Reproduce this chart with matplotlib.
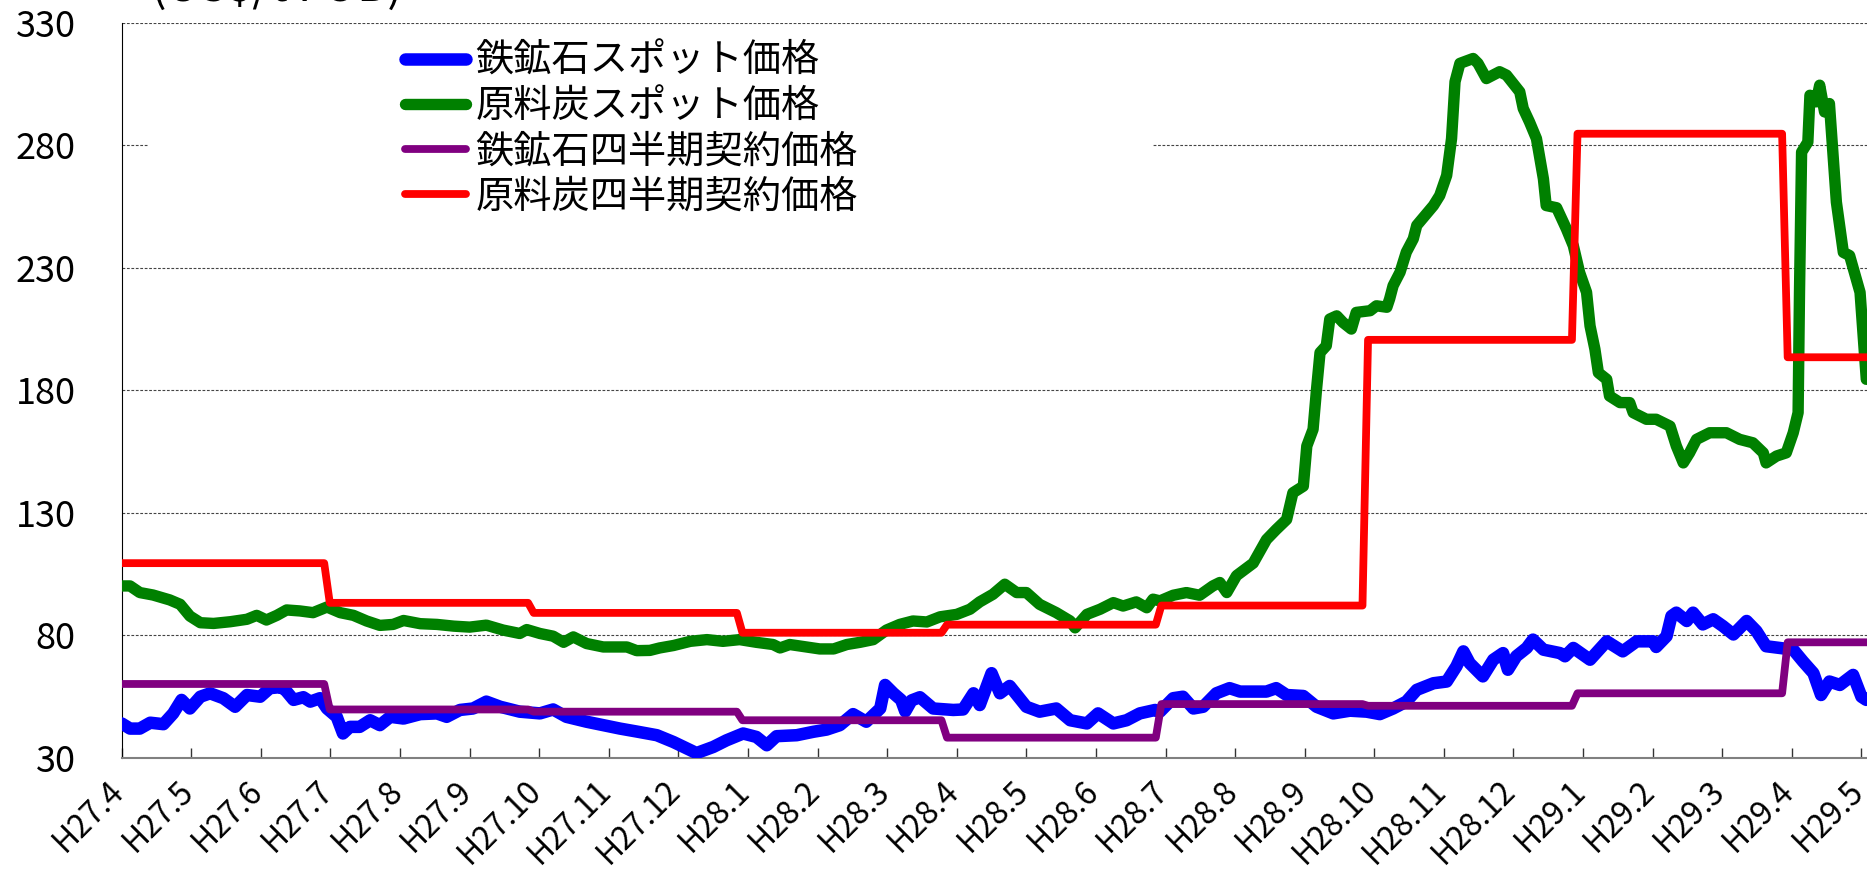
import matplotlib
matplotlib.use('Agg')
import matplotlib.pyplot as plt
from matplotlib.patches import Rectangle
from matplotlib.transforms import ScaledTranslation

plt.rcParams['font.family'] = ['Noto Sans CJK JP', 'DejaVu Sans']

# ---------------- data ----------------
# x = month index (0 = H27.4 = April 2015)
month_labels = ['H27.4', 'H27.5', 'H27.6', 'H27.7', 'H27.8', 'H27.9', 'H27.10', 'H27.11', 'H27.12',
                'H28.1', 'H28.2', 'H28.3', 'H28.4', 'H28.5', 'H28.6', 'H28.7', 'H28.8', 'H28.9',
                'H28.10', 'H28.11', 'H28.12', 'H29.1', 'H29.2', 'H29.3', 'H29.4', 'H29.5']

iron_spot_x = [0.0, 0.12, 0.26, 0.41, 0.60, 0.74, 0.86, 0.98, 1.13, 1.27, 1.46, 1.63, 1.80, 1.99, 2.13,
               2.28, 2.35, 2.47, 2.61, 2.71, 2.85, 2.95, 3.09, 3.18, 3.28, 3.42, 3.57, 3.71, 3.86, 4.05,
               4.29, 4.53, 4.67, 4.86, 5.05, 5.24, 5.44, 5.72, 6.01, 6.20, 6.39, 6.68, 6.92, 7.16, 7.40,
               7.69, 7.93, 8.26, 8.50, 8.69, 8.93, 9.12, 9.27, 9.41, 9.70, 9.94, 10.13, 10.32, 10.51,
               10.70, 10.90, 10.97, 11.09, 11.20, 11.26, 11.35, 11.47, 11.66, 11.95, 12.09, 12.24, 12.33,
               12.50, 12.62, 12.76, 13.00, 13.19, 13.43, 13.63, 13.87, 14.03, 14.25, 14.44, 14.63, 14.85,
               14.92, 15.11, 15.25, 15.40, 15.54, 15.73, 15.92, 16.07, 16.26, 16.45, 16.59, 16.74, 16.98,
               17.17, 17.41, 17.65, 17.89, 18.08, 18.27, 18.46, 18.61, 18.85, 19.04, 19.18, 19.28, 19.37,
               19.56, 19.71, 19.85, 19.92, 20.04, 20.19, 20.28, 20.43, 20.67, 20.74, 20.86, 21.10, 21.34,
               21.57, 21.77, 22.01, 22.05, 22.20, 22.27, 22.34, 22.49, 22.58, 22.72, 22.87, 23.01, 23.16,
               23.35, 23.49, 23.63, 23.83, 24.02, 24.16, 24.31, 24.42, 24.54, 24.69, 24.88, 25.00, 25.07]
iron_spot_y = [44.1, 42.0, 42.0, 44.4, 43.8, 48.2, 53.7, 50.2, 55.0, 56.4, 54.4, 50.9, 55.7, 55.0, 58.5,
               58.9, 57.8, 53.7, 54.8, 53.0, 54.4, 50.2, 46.8, 40.0, 42.7, 42.7, 45.4, 43.4, 46.8, 46.1,
               47.9, 48.2, 46.8, 49.6, 50.2, 53.0, 50.9, 48.9, 48.2, 49.8, 46.8, 44.8, 43.4, 42.0, 40.8,
               39.3, 36.5, 32.0, 34.5, 37.2, 40.0, 38.6, 35.2, 38.9, 39.3, 40.7, 41.6, 43.4, 47.9,
               44.8, 50.2, 59.8, 56.4, 53.7, 49.0, 53.5, 54.8, 50.2, 49.6, 49.8, 56.4, 51.6,
               64.6, 56.4, 59.4, 50.9, 48.9, 50.2, 45.4, 44.1, 48.2, 44.1, 45.4, 48.2, 49.6,
               48.9, 54.4, 55.0, 50.2, 50.9, 56.4, 58.5, 57.1, 57.1, 57.1, 58.5, 55.7, 55.3,
               50.9, 48.2, 49.3, 48.9, 47.9, 50.2, 53.0, 57.8, 60.5, 61.2, 67.4, 73.5, 68.7,
               63.3, 70.1, 72.8, 66.0, 71.5, 74.9, 78.3, 74.2, 72.8, 71.5, 74.9, 70.1, 77.6,
               73.5, 77.6, 77.6, 75.3, 79.7, 87.9, 89.3, 85.9, 89.3, 84.5, 86.6, 83.8, 80.4,
               85.9, 81.8, 75.6, 74.9, 74.2, 69.4, 64.6, 55.7, 61.2, 59.8, 63.9, 55.0, 53.7]

coal_spot_x = [0.0, 0.12, 0.26, 0.45, 0.69, 0.84, 0.98, 1.13, 1.32, 1.56, 1.80, 1.94, 2.08, 2.23, 2.37,
               2.56, 2.75, 2.95, 3.14, 3.33, 3.52, 3.71, 3.90, 4.05, 4.29, 4.53, 4.77, 5.00, 5.24, 5.48,
               5.72, 5.82, 6.01, 6.20, 6.35, 6.49, 6.68, 6.92, 7.26, 7.40, 7.59, 7.73, 7.93, 8.17, 8.41,
               8.64, 8.88, 9.12, 9.36, 9.46, 9.60, 9.84, 10.03, 10.23, 10.42, 10.61, 10.80, 10.99, 11.18,
               11.37, 11.57, 11.76, 12.00, 12.19, 12.33, 12.52, 12.69, 12.86, 13.00, 13.19, 13.43, 13.63,
               13.70, 13.87, 14.06, 14.25, 14.39, 14.58, 14.73, 14.82, 14.92, 15.11, 15.30, 15.49, 15.68,
               15.78, 15.88, 16.02, 16.26, 16.45, 16.59, 16.74, 16.83, 16.98, 17.03, 17.12, 17.17, 17.22,
               17.31, 17.36, 17.46, 17.55, 17.67, 17.74, 17.94, 18.03, 18.18, 18.22, 18.27, 18.37, 18.46,
               18.56, 18.61, 18.75, 18.85, 18.94, 19.04, 19.11, 19.16, 19.23, 19.42, 19.49, 19.61, 19.80,
               19.90, 20.09, 20.14, 20.23, 20.33, 20.43, 20.47, 20.62, 20.76, 20.86, 20.95, 21.05, 21.10,
               21.17, 21.22, 21.34, 21.38, 21.53, 21.67, 21.72, 21.91, 22.05, 22.25, 22.34, 22.44, 22.53,
               22.63, 22.82, 23.06, 23.25, 23.44, 23.59, 23.63, 23.78, 23.92, 24.02, 24.09, 24.11, 24.14,
               24.23, 24.26, 24.35, 24.40, 24.47, 24.54, 24.64, 24.74, 24.83, 24.98, 25.07]
coal_spot_y = [100.2, 100.2, 97.5, 96.5, 94.5, 92.7, 87.9, 85.2, 84.9, 85.6, 86.6, 88.2, 86.3, 88.2, 90.4,
               90.0, 89.3, 91.6, 89.3, 88.2, 85.9, 84.1, 84.5, 86.1, 84.8, 84.5, 83.8, 83.4, 84.2, 82.2,
               80.8, 82.4, 80.8, 79.7, 77.2, 79.4, 76.7, 75.3, 75.3, 73.8, 73.9, 74.9, 75.9, 77.6, 78.3,
               77.6, 78.3, 77.2, 76.3, 74.9, 76.3, 75.3, 74.5, 74.5, 76.3, 77.2, 78.3, 82.2, 84.5,
               85.9, 85.5, 87.6, 88.6, 90.7, 93.7, 96.8, 100.9, 97.5, 97.5, 92.7, 89.3, 85.9,
               83.1, 88.6, 90.7, 93.4, 92.0, 93.7, 91.3, 94.8, 94.1, 96.4, 97.5, 96.4, 100.2,
               101.6, 97.5, 104.4, 109.5, 119.1, 123.2, 127.3, 138.2, 140.9, 157.3, 164.1, 180.5, 195.4,
               198.2, 209.1, 210.4, 207.7, 205.0, 211.8, 212.5, 214.5, 213.9, 217.3, 222.7, 228.2, 236.4,
               241.8, 247.3, 252.0, 255.4, 259.5, 267.7, 282.7, 305.9, 313.4, 315.4, 313.4, 307.2, 310.0,
               308.6, 301.8, 295.0, 289.5, 282.7, 266.3, 255.4, 254.5, 245.9, 239.0, 228.1, 220.0, 206.3,
               196.8, 187.2, 184.5, 177.7, 175.0, 175.0, 170.9, 168.2, 168.2, 165.4, 157.3, 150.4, 154.5,
               160.0, 162.7, 162.7, 160.0, 158.6, 154.5, 150.4, 153.2, 154.5, 162.7, 170.9, 220.0, 277.2,
               281.3, 300.4, 297.7, 304.5, 293.6, 297.0, 256.8, 236.3, 235.0, 220.0, 184.5]

# quarterly contract prices: month index where each price takes effect
contract_start = [0.0, 2.95, 5.88, 8.88, 11.82, 14.9, 17.87, 20.88, 23.9]
iron_contract = [60.2, 49.8, 48.9, 45.4, 38.3, 52.0, 51.3, 56.4, 77.2]
coal_contract = [109.5, 93.3, 89.2, 81.1, 84.4, 92.2, 200.6, 284.7, 193.5]

series_labels = ['鉄鉱石スポット価格', '原料炭スポット価格', '鉄鉱石四半期契約価格', '原料炭四半期契約価格']
y_ticks = [30, 80, 130, 180, 230, 280, 330]
unit_label = '(US$/t FOB)'

# ---------------- figure ----------------
W, H = 1867, 869
fig = plt.figure(figsize=(W / 100, H / 100), dpi=100)
ax_left, ax_bottom_px, ax_top_px = 121.7, 758.0, 22.7
ax = fig.add_axes([ax_left / W, (H - ax_bottom_px) / H, 1 - ax_left / W, (ax_bottom_px - ax_top_px) / H])

x_end = 25.08


def step_xy(starts, vals, end, half=0.04):
    xs, ys = [], []
    for i, v in enumerate(vals):
        s = starts[i] + (half if i > 0 else 0)
        e = starts[i + 1] - half if i + 1 < len(starts) else end
        xs += [s, e]
        ys += [v, v]
    return xs, ys


kw = dict(solid_capstyle='round', solid_joinstyle='round')
ax.plot(iron_spot_x, iron_spot_y, color='#0000FF', lw=9.0, label=series_labels[0], zorder=3, **kw)
ax.plot(coal_spot_x, coal_spot_y, color='#008000', lw=8.2, label=series_labels[1], zorder=3, **kw)
sx, sy = step_xy(contract_start, iron_contract, x_end + 0.5)
ax.plot(sx, sy, color='#800080', lw=5.6, label=series_labels[2], zorder=4, **kw)
sx, sy = step_xy(contract_start, coal_contract, x_end + 0.5)
ax.plot(sx, sy, color='#FF0000', lw=5.6, label=series_labels[3], zorder=5, **kw)

ax.set_xlim(0, x_end)
ax.set_ylim(30, 330)

ax.set_axisbelow(True)
ax.yaxis.grid(True, linestyle=(0, (2.5, 1.5)), color='#444444', lw=0.8)
ax.set_yticks(y_ticks)
ax.set_yticklabels([str(t) for t in y_ticks])
ax.tick_params(axis='y', length=0, pad=33, labelsize=26)

ax.set_xticks(range(len(month_labels)))
ax.set_xticklabels(month_labels, rotation=45, ha='right', rotation_mode='anchor')
ax.tick_params(axis='x', direction='in', length=7.2, width=1, color='#333333', pad=12, labelsize=23)
for lab in ax.get_xticklabels():
    lab.set_transform(lab.get_transform() + ScaledTranslation(-0.14, 0, fig.dpi_scale_trans))

for s in ['top', 'right']:
    ax.spines[s].set_visible(False)
ax.spines['bottom'].set_color('#808080')
ax.spines['bottom'].set_linewidth(1.5)
ax.spines['left'].set_color('black')
ax.spines['left'].set_linewidth(0.8)

# white legend area covering gridlines
ax.add_patch(Rectangle((149 / W, 1 - 240 / H), (1152 - 149) / W, 200 / H,
                       transform=fig.transFigure, facecolor='white', edgecolor='none', zorder=1))

leg = ax.legend(loc='upper left', bbox_to_anchor=(405 / W, 1 - 42 / H), bbox_transform=fig.transFigure,
                frameon=False, borderpad=0, borderaxespad=0, handlelength=1.6, handletextpad=0.25,
                labelspacing=0.16, fontsize=27.5)

fig.text(151 / W, 1 - 1 / H, unit_label, fontsize=33, va='baseline', ha='left')

fig.savefig('out.png', dpi=100)
